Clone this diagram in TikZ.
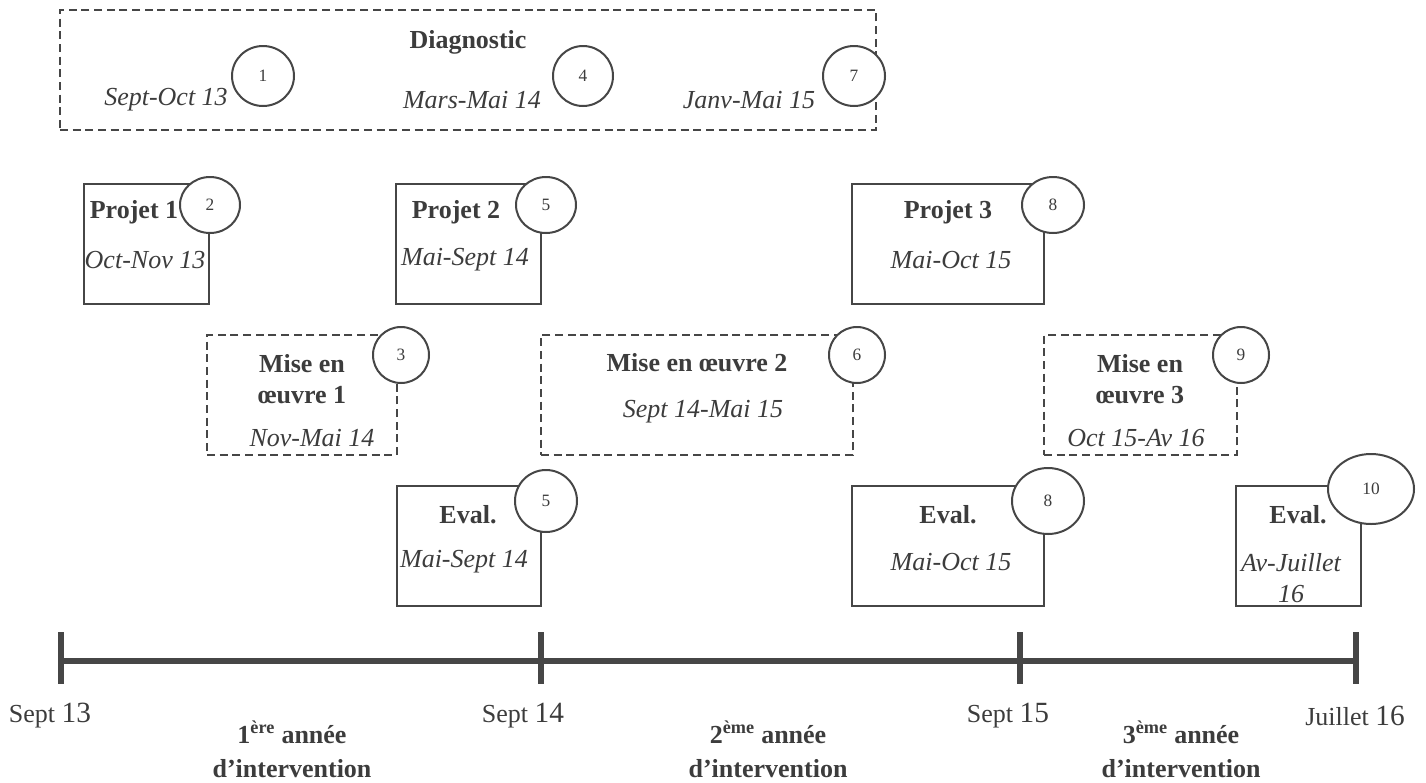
\documentclass[tikz,border=0pt]{standalone}
\usepackage{fontspec}
\setmainfont{Liberation Serif}
\usetikzlibrary{shapes.geometric,fit}
\definecolor{ink}{RGB}{60,60,60}
\definecolor{edge}{RGB}{70,70,70}

\begin{document}
\begin{tikzpicture}[x=0.75pt,y=-0.75pt,
  every node/.style={text=ink},
  solidbox/.style={draw=edge, line width=1.5pt, inner sep=0pt},
  dashbox/.style={draw=edge, line width=1.5pt, dash pattern=on 6pt off 3.5pt, inner sep=0pt},
  numc/.style={ellipse, draw=edge, line width=1.5pt, fill=white, inner sep=0pt,
    font=\fontsize{13}{13}\selectfont},
  ttl/.style={font=\fontsize{19.5}{23.25}\selectfont\bfseries, align=center, inner sep=0pt},
  dt/.style={font=\fontsize{19.5}{23.25}\selectfont\itshape, align=center, inner sep=0pt},
  axisline/.style={draw=edge, line width=5pt},
  tickline/.style={draw=edge, line width=4pt},
  tl/.style={font=\fontsize{19.5}{23}\selectfont, inner sep=0pt},
  yr/.style={font=\fontsize{19.5}{25.5}\selectfont\bfseries, align=center, inner sep=0pt},
]
\useasboundingbox (0,0) rectangle (1426,782);

% ---- boxes ----
\node[dashbox, fit={(60,10) (876,130)}] (diag) {};
\node[solidbox, fit={(84,184) (209,304)}] (p1) {};
\node[solidbox, fit={(396,184) (541,304)}] (p2) {};
\node[solidbox, fit={(852,184) (1044,304)}] (p3) {};
\node[dashbox, fit={(207,335) (397,455)}] (m1) {};
\node[dashbox, fit={(541,335) (853,455)}] (m2) {};
\node[dashbox, fit={(1044,335) (1237,455)}] (m3) {};
\node[solidbox, fit={(397,486) (541,606)}] (e1) {};
\node[solidbox, fit={(852,486) (1044,606)}] (e2) {};
\node[solidbox, fit={(1236,486) (1361,606)}] (e3) {};

% ---- numbered step markers ----
\node[numc, minimum width=46.5pt, minimum height=45pt] (c1) at (263,76) {1};
\node[numc, minimum width=45pt, minimum height=45pt] (c4) at (583,76) {4};
\node[numc, minimum width=46.5pt, minimum height=45pt] (c7) at (854,76) {7};
\node[numc, minimum width=45pt, minimum height=42pt] (c2) at (210,205) {2};
\node[numc, minimum width=45pt, minimum height=42pt] (c5a) at (546,205) {5};
\node[numc, minimum width=46.5pt, minimum height=42pt] (c8a) at (1053,205) {8};
\node[numc, minimum width=42pt, minimum height=42pt] (c3) at (401,355) {3};
\node[numc, minimum width=42pt, minimum height=42pt] (c6) at (857,355) {6};
\node[numc, minimum width=42pt, minimum height=42pt] (c9) at (1241,355) {9};
\node[numc, minimum width=46.5pt, minimum height=46.5pt] (c5b) at (546,501) {5};
\node[numc, minimum width=54pt, minimum height=49.5pt] (c8b) at (1048,501) {8};
\node[numc, minimum width=64.5pt, minimum height=52.5pt] (c10) at (1371,489) {10};

% ---- box texts ----
\node[ttl] (diagT) at (468,42) {Diagnostic};
\node[dt] (diagA) at (166,100) {Sept-Oct 13};
\node[dt] (diagB) at (472,100) {Mars-Mai 14};
\node[dt] (diagC) at (749,100) {Janv-Mai 15};

\node[ttl] (p1T) at (134,212) {Projet 1};
\node[dt] (p1D) at (145,260) {Oct-Nov 13};
\node[ttl] (p2T) at (456,212) {Projet 2};
\node[dt] (p2D) at (465,260) {Mai-Sept 14};
\node[ttl] (p3T) at (948,212) {Projet 3};
\node[dt] (p3D) at (951,260) {Mai-Oct 15};

\node[ttl] (m1T) at (302,379) {Mise en\\œuvre 1};
\node[dt] (m1D) at (312,438) {Nov-Mai 14};
\node[ttl] (m2T) at (697,363) {Mise en œuvre 2};
\node[dt] (m2D) at (703,412) {Sept 14-Mai 15};
\node[ttl] (m3T) at (1140,379) {Mise en\\œuvre 3};
\node[dt] (m3D) at (1136,438) {Oct 15-Av 16};

\node[ttl] (e1T) at (468,515) {Eval.};
\node[dt] (e1D) at (464,562) {Mai-Sept 14};
\node[ttl] (e2T) at (948,515) {Eval.};
\node[dt] (e2D) at (951,562) {Mai-Oct 15};
\node[ttl] (e3T) at (1298,515) {Eval.};
\node[dt] (e3D) at (1291,578) {Av-Juillet\\16};

% ---- time axis ----
\coordinate (t0) at (61,661);
\coordinate (t1) at (541,661);
\coordinate (t2) at (1020,661);
\coordinate (t3) at (1356,661);
\draw[axisline] (t0) -- (t3);
\foreach \t in {t0,t1,t2,t3}
  \draw[tickline] ([yshift=21.75pt]\t) -- ([yshift=-17.25pt]\t);

\node[tl] (s13) at (50,716) {Sept {\fontsize{22}{22}\selectfont 13}};
\node[tl] (s14) at (523,716) {Sept {\fontsize{22}{22}\selectfont 14}};
\node[tl] (s15) at (1008,716) {Sept {\fontsize{22}{22}\selectfont 15}};
\node[tl] (j16) at (1355,716) {Juillet {\fontsize{22}{22}\selectfont 16}};

\node[yr] (y1) at (292,749) {1\textsuperscript{ère} année\\d’intervention};
\node[yr] (y2) at (768,749) {2\textsuperscript{ème} année\\d’intervention};
\node[yr] (y3) at (1181,749) {3\textsuperscript{ème} année\\d’intervention};
\end{tikzpicture}
\end{document}
